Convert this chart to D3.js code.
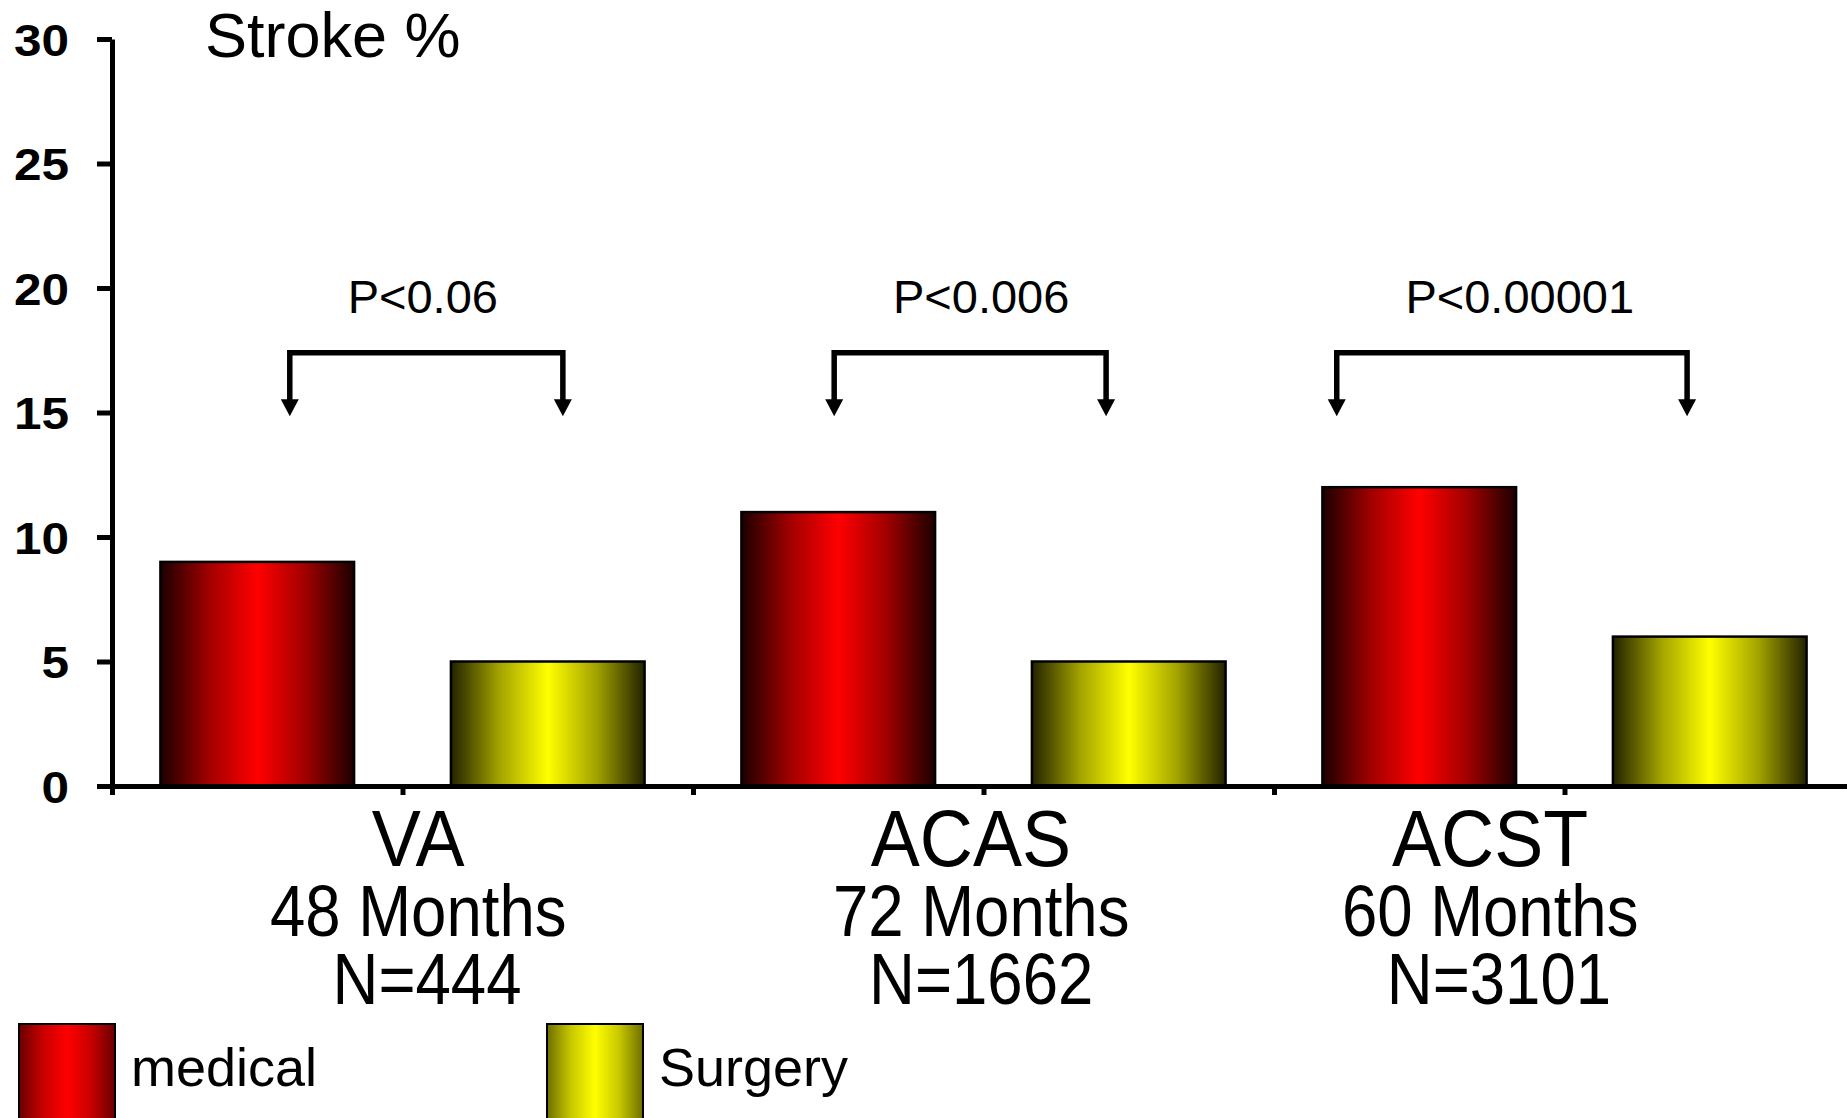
<!DOCTYPE html>
<html>
<head>
<meta charset="utf-8">
<script src="https://cdn.jsdelivr.net/npm/d3@7/dist/d3.min.js"></script>
<style>
  html, body { margin: 0; padding: 0; background: #fff; }
  svg { display: block; font-family: "Liberation Sans", Arial, sans-serif; }
</style>
</head>
<body>
<svg id="chart" width="1847" height="1118"></svg>
<script>
// ---- data ----
const categories = ["VA", "ACAS", "ACST"];
const seriesNames = ["medical", "Surgery"];
const medicalValues = [9, 11, 12];
const surgeryValues = [5, 5, 6];
const yTickValues = [0, 5, 10, 15, 20, 25, 30];
const catLine1 = ["VA", "ACAS ", "ACST"];
const catLine2 = ["48 Months", "72 Months", "60 Months"];
const catLine3 = [" N=444", "N=1662", " N=3101"];
const pLabels = ["P<0.06", "P<0.006", "P<0.00001"];
// annotation anchors in category units (0..3) and stroke % units
const bracketFrom = [0.306, 1.243, 2.108];
const bracketTo = [0.776, 1.711, 2.711];
const pLabelAt = [0.535, 1.496, 2.423];
const catLabelAt = [0.527, 1.496, 2.372];
const bracketTopValue = 17.4;
const arrowTipValue = 14.85;
const pLabelValue = 19.0;
const yTitle = "Stroke %";

(function () {
// ---- layout ----
const svg = d3.select("#chart");
const W = 1847, H = 1118;
const mLeft = 112, mBottom = 786, mTop = 39, mRight = 1855;

const x0 = d3.scaleBand().domain(categories).range([mLeft, mRight]).padding(0);
const x1 = d3.scaleBand().domain(seriesNames).range([0, x0.bandwidth()])
  .paddingInner(1/3).paddingOuter(1/6);
const xc = d3.scaleLinear().domain([0, categories.length]).range([mLeft, mRight]);
const y = d3.scaleLinear().domain([0, 30]).range([mBottom, mTop]);

const defs = svg.append("defs");
function grad(id, edge, mid, center) {
  const g = defs.append("linearGradient").attr("id", id)
    .attr("x1", "0").attr("x2", "1").attr("y1", "0").attr("y2", "0");
  [[0, edge], [0.25, mid], [0.5, center], [0.75, mid], [1, edge]].forEach(([o, c]) =>
    g.append("stop").attr("offset", o).attr("stop-color", c));
}
grad("gMed", "#1c0000", "#a00000", "#ff0000");
grad("gSur", "#222200", "#a3a300", "#ffff00");
grad("gMedL", "#6a0000", "#c80000", "#ff0000");
grad("gSurL", "#6e6e00", "#c8c800", "#ffff00");
const fills = { medical: "url(#gMed)", Surgery: "url(#gSur)" };
const legendFills = { medical: "url(#gMedL)", Surgery: "url(#gSurL)" };

svg.append("rect").attr("width", W).attr("height", H).attr("fill", "#fff");

// ---- bars ----
const rows = categories.map((c, i) => ({ cat: c, values: [
  { key: "medical", v: medicalValues[i] },
  { key: "Surgery", v: surgeryValues[i] }] }));

const g = svg.append("g");
g.selectAll("g.cat").data(rows).join("g")
  .attr("class", "cat")
  .attr("transform", d => `translate(${x0(d.cat)},0)`)
  .selectAll("rect").data(d => d.values).join("rect")
  .attr("x", d => x1(d.key))
  .attr("width", x1.bandwidth())
  .attr("y", d => y(d.v))
  .attr("height", d => y(0) - y(d.v))
  .attr("fill", d => fills[d.key])
  .attr("stroke", "#000")
  .attr("stroke-width", 2.5);

// ---- axes ----
const yAxis = d3.axisLeft(y).tickValues(yTickValues).tickSize(15).tickSizeOuter(0).tickPadding(0);
const ya = svg.append("g").attr("transform", `translate(${mLeft},0)`).call(yAxis);
ya.select(".domain").attr("stroke", "#000").attr("stroke-width", 5);
ya.selectAll(".tick line").attr("stroke", "#000").attr("stroke-width", 5);
ya.selectAll(".tick text")
  .attr("x", null).attr("dy", null)
  .attr("transform", "translate(-43,16) scale(1.1,1)")
  .attr("text-anchor", "end")
  .attr("fill", "#000")
  .style("font-size", "45px").style("font-weight", "bold")
  .style("font-family", "'Liberation Sans', Arial, sans-serif");

const xTicks = d3.range(0, categories.length + 0.01, 0.5);
const xAxis = d3.axisBottom(xc).tickValues(xTicks).tickSize(9).tickSizeOuter(0).tickFormat("");
const xa = svg.append("g").attr("transform", `translate(0,${mBottom})`).call(xAxis);
xa.select(".domain").attr("stroke", "#000").attr("stroke-width", 5);
xa.selectAll(".tick line").attr("stroke", "#000").attr("stroke-width", 5);

// ---- y title ----
svg.append("text").attr("x", 205).attr("y", 57)
  .style("font-size", "63px").attr("fill", "#000").text(yTitle);

// ---- category labels ----
const lab = svg.append("g");
categories.forEach((c, i) => {
  const cx = xc(catLabelAt[i]);
  lab.append("text")
    .attr("transform", `translate(${cx},866) scale(0.92,1)`)
    .attr("text-anchor", "middle")
    .style("white-space", "pre")
    .style("font-size", "80px")
    .attr("fill", "#000")
    .text(catLine1[i]);
  const t = lab.append("text")
    .attr("transform", `translate(${cx},0) scale(0.87,1)`)
    .attr("text-anchor", "middle")
    .style("white-space", "pre")
    .style("font-size", "73px")
    .attr("fill", "#000");
  [[catLine2[i], 936], [catLine3[i], 1004]].forEach(([s, by]) => {
    t.append("tspan").attr("x", 0).attr("y", by).text(s);
  });
});

// ---- brackets ----
const br = svg.append("g");
const ah = 17, aw = 9;
categories.forEach((c, i) => {
  const xa1 = xc(bracketFrom[i]), xb = xc(bracketTo[i]);
  const yt = y(bracketTopValue), tip = y(arrowTipValue);
  br.append("path")
    .attr("d", `M${xa1},${tip - ah + 1}L${xa1},${yt}L${xb},${yt}L${xb},${tip - ah + 1}`)
    .attr("fill", "none").attr("stroke", "#000").attr("stroke-width", 5.5)
    .attr("stroke-linejoin", "miter");
  [xa1, xb].forEach(px => {
    br.append("path")
      .attr("d", `M${px - aw},${tip - ah}L${px + aw},${tip - ah}L${px},${tip}Z`)
      .attr("fill", "#000");
  });
  br.append("text")
    .attr("x", xc(pLabelAt[i])).attr("y", y(pLabelValue))
    .attr("text-anchor", "middle")
    .style("font-size", "47px").attr("fill", "#000")
    .text(pLabels[i]);
});

// ---- legend ----
const legendX = [19, 547];
const leg = svg.append("g");
seriesNames.forEach((s, i) => {
  leg.append("rect")
    .attr("x", legendX[i]).attr("y", 1024)
    .attr("width", 96).attr("height", 120)
    .attr("fill", legendFills[s]).attr("stroke", "#000").attr("stroke-width", 2);
  leg.append("text")
    .attr("x", legendX[i] + 112).attr("y", 1086)
    .style("font-size", "54px").attr("fill", "#000")
    .text(s);
});
})();
</script>
</body>
</html>
